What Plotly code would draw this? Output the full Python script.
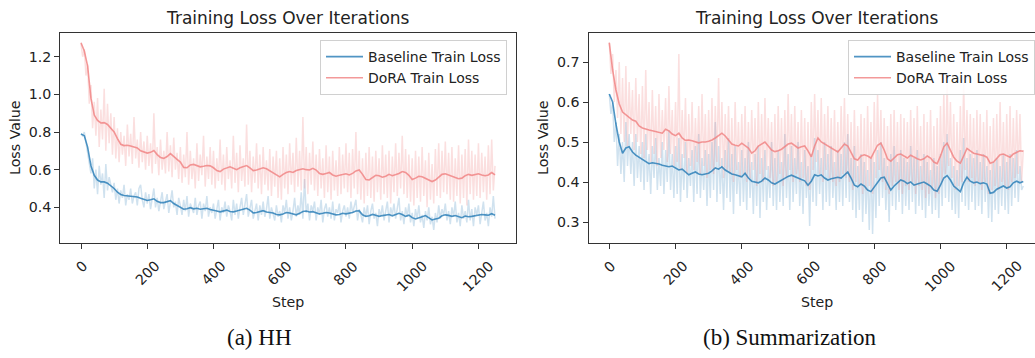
import plotly.graph_objects as go

# ---------------- data ----------------
steps_smooth = list(range(0, 1251, 10))
steps_raw = list(range(0, 1251, 5))
x_ticks = [0, 200, 400, 600, 800, 1000, 1200]
x_tick_labels = ["0", "200", "400", "600", "800", "1000", "1200"]

# (a) HH - smoothed
hh_base_smooth = [
    .79, .78, .72, .62, .57, .545, .535, .535, .528, .515,
    .50, .48, .468, .463, .462, .46, .458, .455, .448, .443,
    .436, .44, .445, .432, .425, .425, .43, .435, .42, .41,
    .40, .39, .392, .398, .392, .395, .39, .392, .395, .388,
    .386, .38, .376, .38, .385, .378, .376, .38, .385, .39,
    .395, .385, .37, .372, .378, .382, .375, .372, .37, .362,
    .36, .365, .372, .37, .365, .36, .368, .378, .38, .375,
    .377, .37, .365, .368, .372, .37, .365, .36, .362, .368,
    .365, .368, .372, .38, .381, .36, .352, .355, .362, .358,
    .352, .356, .36, .362, .355, .36, .368, .362, .352, .358,
    .345, .338, .342, .35, .356, .345, .333, .338, .342, .355,
    .36, .357, .352, .356, .35, .345, .354, .35, .352, .355,
    .36, .362, .36, .358, .366, .358]
hh_dora_smooth = [
    1.274, 1.23, 1.15, .98, .89, .862, .848, .85, .84, .82,
    .80, .765, .735, .728, .73, .726, .722, .715, .70, .692,
    .688, .692, .702, .68, .665, .66, .67, .685, .672, .655,
    .64, .612, .61, .625, .628, .62, .615, .618, .622, .62,
    .61, .595, .59, .603, .61, .615, .608, .60, .61, .618,
    .622, .61, .595, .598, .605, .61, .605, .595, .585, .572,
    .562, .575, .585, .59, .585, .595, .598, .605, .60, .598,
    .607, .598, .58, .575, .58, .585, .572, .565, .57, .575,
    .578, .572, .58, .593, .598, .575, .548, .545, .56, .57,
    .568, .56, .565, .575, .568, .572, .58, .59, .585, .57,
    .548, .555, .565, .562, .555, .545, .537, .545, .56, .575,
    .578, .57, .562, .558, .552, .555, .568, .575, .57, .572,
    .578, .572, .568, .572, .585, .572]

# (a) HH - raw
hh_base_raw = [
    .79, .78, .80, .74, .70, .62, .58, .66, .50, .60, .47, .62, .52, .58, .45, .63, .49, .56, .52, .48,
    .53, .44, .50, .42, .49, .45, .52, .41, .47, .44, .50, .42, .46, .48, .41, .50, .52, .44, .40, .48,
    .42, .47, .39, .46, .50, .40, .45, .38, .44, .48, .39, .43, .47, .37, .44, .49, .40, .43, .36, .45,
    .41, .36, .44, .38, .46, .35, .42, .39, .37, .45, .36, .41, .43, .34, .42, .38, .46, .35, .40, .37,
    .42, .34, .39, .44, .33, .40, .37, .43, .35, .41, .38, .33, .44, .36, .42, .34, .40, .45, .36, .41,
    .47, .35, .40, .44, .34, .38, .42, .33, .41, .36, .43, .35, .39, .46, .34, .40, .37, .33, .41, .35,
    .38, .32, .41, .37, .44, .34, .40, .33, .38, .45, .35, .41, .36, .48, .34, .55, .37, .42, .33, .41,
    .38, .43, .33, .40, .36, .44, .32, .39, .42, .35, .40, .34, .43, .33, .39, .37, .42, .32, .38, .41,
    .35, .40, .34, .43, .37, .41, .44, .33, .39, .36, .32, .40, .35, .41, .31, .38, .42, .34, .37, .30,
    .39, .35, .41, .33, .38, .43, .32, .40, .36, .42, .34, .39, .45, .33, .38, .31, .40, .35, .42, .32,
    .37, .30, .39, .34, .41, .32, .36, .29, .38, .33, .40, .31, .35, .28, .37, .32, .41, .34, .39, .36,
    .42, .33, .38, .31, .40, .35, .43, .32, .37, .30, .41, .34, .38, .32, .44, .33, .39, .30, .40, .36,
    .41, .31, .38, .43, .33, .37, .30, .40, .35, .46, .34]
hh_dora_raw = [
    1.27, 1.20, 1.24, 1.10, 1.16, .95, 1.05, .82, .96, .78, .98, .72, .92, .76, 1.03, .70, .95, .74, .90, .68,
    .88, .66, .82, .64, .80, .68, .78, .62, .84, .67, .79, .63, .88, .66, .76, .61, .80, .64, .75, .60,
    .78, .62, .74, .58, .90, .63, .72, .57, .76, .60, .70, .58, .80, .59, .73, .56, .77, .60, .69, .55,
    .72, .53, .68, .56, .80, .52, .70, .55, .66, .50, .74, .54, .68, .57, .78, .51, .67, .55, .72, .52,
    .70, .50, .66, .54, .76, .52, .68, .49, .72, .55, .65, .50, .78, .53, .69, .48, .73, .54, .66, .51,
    .84, .52, .70, .48, .67, .53, .74, .50, .68, .47, .72, .52, .65, .49, .71, .46, .67, .51, .70, .45,
    .66, .44, .72, .50, .68, .47, .74, .52, .69, .48, .77, .51, .70, .49, .88, .50, .72, .47, .69, .52,
    .75, .49, .68, .46, .71, .50, .66, .45, .73, .48, .67, .44, .70, .49, .65, .46, .72, .47, .68, .50,
    .74, .48, .69, .45, .71, .50, .80, .47, .70, .44, .66, .42, .69, .46, .72, .45, .67, .43, .70, .48,
    .66, .44, .73, .47, .68, .45, .70, .42, .67, .48, .74, .46, .69, .50, .78, .47, .71, .45, .68, .43,
    .66, .41, .70, .45, .67, .43, .72, .46, .65, .40, .69, .44, .63, .42, .71, .46, .74, .45, .70, .48,
    .75, .47, .69, .44, .72, .43, .66, .46, .73, .42, .68, .45, .71, .41, .76, .47, .70, .44, .68, .46,
    .74, .45, .69, .48, .67, .44, .73, .47, .76, .49, .62]

# (b) Summarization - smoothed
sum_base_smooth = [
    .62, .60, .545, .50, .472, .485, .488, .475, .467, .462,
    .455, .45, .446, .448, .447, .445, .442, .44, .438, .44,
    .435, .43, .432, .425, .418, .422, .425, .42, .418, .42,
    .422, .428, .435, .432, .438, .43, .425, .42, .418, .415,
    .413, .422, .41, .402, .40, .398, .402, .41, .405, .398,
    .395, .40, .403, .41, .414, .417, .413, .408, .406, .403,
    .392, .402, .418, .415, .418, .41, .405, .408, .41, .412,
    .41, .418, .425, .41, .392, .388, .395, .39, .38, .376,
    .388, .398, .41, .412, .395, .38, .39, .398, .405, .402,
    .396, .40, .392, .395, .398, .40, .395, .39, .38, .377,
    .392, .41, .416, .405, .39, .382, .376, .398, .412, .402,
    .398, .40, .396, .398, .395, .372, .374, .382, .385, .39,
    .385, .388, .398, .402, .398, .401]
sum_dora_smooth = [
    .748, .68, .63, .595, .575, .568, .56, .555, .552, .54,
    .535, .532, .53, .528, .526, .524, .522, .532, .528, .52,
    .516, .522, .51, .504, .505, .503, .50, .498, .50, .50,
    .502, .505, .51, .516, .522, .515, .505, .495, .492, .49,
    .497, .49, .485, .472, .478, .49, .495, .50, .49, .48,
    .476, .478, .482, .488, .495, .497, .49, .485, .488, .49,
    .478, .463, .49, .51, .50, .495, .492, .485, .48, .475,
    .485, .495, .49, .475, .458, .455, .465, .468, .465, .46,
    .478, .492, .497, .48, .458, .452, .46, .468, .47, .465,
    .46, .467, .462, .458, .455, .458, .465, .46, .45, .446,
    .465, .488, .497, .48, .462, .452, .447, .465, .484, .478,
    .472, .47, .468, .466, .462, .447, .45, .458, .468, .47,
    .465, .462, .47, .475, .478, .477]

# (b) Summarization - raw
sum_base_raw = [
    .62, .57, .60, .50, .55, .44, .52, .42, .50, .40, .55, .44, .52, .42, .50, .39, .52, .41, .49, .40,
    .50, .38, .52, .40, .47, .37, .49, .41, .51, .38, .46, .39, .50, .37, .48, .40, .53, .38, .47, .36,
    .49, .37, .51, .35, .47, .38, .50, .36, .46, .39, .48, .35, .49, .37, .52, .36, .46, .38, .48, .34,
    .47, .36, .50, .38, .55, .35, .49, .37, .46, .33, .48, .36, .51, .35, .47, .32, .49, .37, .45, .34,
    .48, .35, .46, .33, .50, .36, .45, .32, .47, .34, .49, .31, .46, .35, .48, .33, .44, .36, .50, .34,
    .46, .33, .48, .35, .45, .34, .52, .36, .47, .33, .49, .35, .46, .37, .50, .34, .45, .32, .48, .36,
    .44, .29, .47, .35, .51, .34, .48, .37, .46, .33, .50, .35, .47, .34, .49, .36, .45, .33, .48, .35,
    .47, .34, .50, .36, .52, .35, .46, .33, .49, .31, .44, .33, .47, .30, .45, .32, .43, .28, .46, .27,
    .45, .31, .48, .34, .50, .36, .46, .33, .44, .30, .47, .34, .49, .33, .45, .35, .48, .32, .46, .34,
    .45, .33, .49, .35, .46, .32, .48, .34, .44, .33, .47, .31, .45, .34, .43, .32, .46, .33, .44, .31,
    .47, .34, .50, .36, .52, .35, .46, .33, .44, .32, .43, .31, .48, .35, .51, .34, .46, .33, .47, .35,
    .46, .33, .48, .34, .45, .32, .47, .35, .44, .31, .43, .30, .45, .33, .46, .32, .44, .34, .47, .33,
    .45, .32, .47, .34, .46, .36, .48, .35, .44, .38, .39]
sum_dora_raw = [
    .75, .67, .72, .60, .68, .56, .70, .52, .66, .50, .69, .49, .65, .52, .63, .48, .66, .50, .62, .47,
    .64, .46, .68, .48, .60, .45, .63, .47, .59, .44, .62, .46, .58, .48, .61, .45, .64, .47, .58, .44,
    .60, .45, .72, .43, .58, .46, .61, .42, .57, .44, .60, .43, .56, .45, .59, .42, .62, .44, .57, .41,
    .58, .43, .61, .42, .59, .45, .66, .44, .60, .41, .57, .43, .59, .42, .56, .40, .60, .43, .55, .41,
    .57, .42, .59, .40, .55, .41, .58, .43, .56, .39, .60, .42, .57, .40, .61, .43, .56, .41, .55, .39,
    .57, .40, .59, .42, .56, .39, .58, .41, .62, .43, .57, .40, .59, .42, .55, .40, .58, .41, .56, .39,
    .55, .38, .60, .43, .62, .45, .58, .42, .61, .40, .57, .43, .59, .41, .56, .40, .58, .39, .55, .40,
    .59, .42, .61, .41, .57, .40, .55, .38, .58, .40, .54, .39, .57, .37, .56, .38, .59, .39, .55, .37,
    .60, .41, .62, .43, .58, .40, .56, .38, .54, .37, .57, .39, .58, .40, .55, .38, .57, .37, .56, .39,
    .55, .38, .58, .40, .56, .37, .59, .39, .54, .38, .57, .36, .55, .37, .58, .38, .54, .36, .56, .37,
    .59, .40, .62, .42, .65, .44, .60, .41, .57, .38, .55, .39, .59, .40, .65, .43, .58, .40, .57, .41,
    .56, .39, .58, .40, .57, .38, .55, .40, .58, .37, .54, .38, .56, .39, .57, .38, .60, .40, .55, .39,
    .57, .38, .59, .40, .56, .41, .58, .42, .57, .40, .48]

# ---------------- styling ----------------
W, H = 1035, 358
FONT = "DejaVu Sans"
TXT = "#222222"
AX = "#333333"
BLUE = "rgba(31,119,180,0.78)"
BLUE_RAW = "rgba(31,119,180,0.21)"
PINK = "rgba(240,128,128,0.8)"
PINK_RAW = "rgba(240,128,128,0.25)"

def px_x(p):
    return p / W

def px_y(p):
    return 1 - p / H

fig = go.Figure()

panels = [
    ("x", "y", "legend", hh_base_raw, hh_dora_raw, hh_base_smooth, hh_dora_smooth),
    ("x2", "y2", "legend2", sum_base_raw, sum_dora_raw, sum_base_smooth, sum_dora_smooth),
]
for xa, ya, lg, br, dr, bs, ds in panels:
    fig.add_trace(go.Scatter(x=steps_raw, y=br, mode="lines", xaxis=xa, yaxis=ya,
                             line=dict(color=BLUE_RAW, width=1.5), showlegend=False,
                             hoverinfo="skip"))
    fig.add_trace(go.Scatter(x=steps_raw, y=dr, mode="lines", xaxis=xa, yaxis=ya,
                             line=dict(color=PINK_RAW, width=1.5), showlegend=False,
                             hoverinfo="skip"))
    fig.add_trace(go.Scatter(x=steps_smooth, y=bs, mode="lines", xaxis=xa, yaxis=ya,
                             name="Baseline Train Loss", legend=lg,
                             line=dict(color=BLUE, width=1.6)))
    fig.add_trace(go.Scatter(x=steps_smooth, y=ds, mode="lines", xaxis=xa, yaxis=ya,
                             name="DoRA Train Loss", legend=lg,
                             line=dict(color=PINK, width=1.6)))

ydom = [px_y(243), px_y(33)]
common_x = dict(showgrid=False, zeroline=False, showline=True, linecolor=AX, linewidth=1.2,
                ticks="outside", ticklen=5, tickwidth=1.2, tickcolor=AX,
                tickvals=x_ticks, showticklabels=False)
common_y = dict(showgrid=False, zeroline=False, showline=True, linecolor=AX, linewidth=1.2,
                ticks="outside", ticklen=5, tickwidth=1.2, tickcolor=AX,
                tickformat=".1f", tickfont=dict(family=FONT, size=14.2, color=TXT))

legend_style = dict(xanchor="left", yanchor="top", itemwidth=37,
                    bgcolor="rgba(255,255,255,0.85)", bordercolor="#d0d0d0", borderwidth=1,
                    font=dict(family=FONT, size=14, color=TXT), tracegroupgap=0)

fig.update_layout(
    width=W, height=H, margin=dict(l=0, r=0, t=0, b=0),
    paper_bgcolor="white", plot_bgcolor="white",
    font=dict(family=FONT, size=14.2, color=TXT),
    xaxis=dict(domain=[px_x(60.3), px_x(515.7)], range=[-62.5, 1312.5], anchor="y",
               mirror=True, **common_x),
    yaxis=dict(domain=ydom, range=[0.2104, 1.326], anchor="x", mirror=True,
               tickvals=[0.4, 0.6, 0.8, 1.0, 1.2], **common_y),
    xaxis2=dict(domain=[px_x(588.6), 1.0], range=[-62.5, 1285.4], anchor="y2",
                mirror=True, **common_x),
    yaxis2=dict(domain=ydom, range=[0.2475, 0.7725], anchor="x2", mirror=False,
                tickvals=[0.3, 0.4, 0.5, 0.6, 0.7], **common_y),
    legend=dict(x=px_x(320), y=px_y(40), **legend_style),
    legend2=dict(x=px_x(848), y=px_y(40), **legend_style),
    showlegend=True,
)

ann = []
for xr in ["x", "x2"]:
    for v, lab in zip(x_ticks, x_tick_labels):
        ann.append(dict(x=v, y=px_y(255), xref=xr, yref="paper", text=lab, showarrow=False,
                        textangle=-45, xanchor="center", yanchor="top",
                        font=dict(family=FONT, size=14.2, color=TXT)))

for cx, lx, capx, cap in [(288, 15, 259.5, "(a) HH"), (816.5, 543, 790, "(b) Summarization")]:
    ann.append(dict(x=px_x(cx), y=px_y(18.3), xref="paper", yref="paper",
                    text="Training Loss Over Iterations", showarrow=False,
                    xanchor="center", yanchor="middle",
                    font=dict(family=FONT, size=17, color=TXT)))
    ann.append(dict(x=px_x(cx), y=px_y(302), xref="paper", yref="paper", text="Step",
                    showarrow=False, xanchor="center", yanchor="middle",
                    font=dict(family=FONT, size=14.2, color=TXT)))
    ann.append(dict(x=px_x(lx), y=px_y(138), xref="paper", yref="paper", text="Loss Value",
                    showarrow=False, textangle=-90, xanchor="center", yanchor="middle",
                    font=dict(family=FONT, size=14.2, color=TXT)))
    ann.append(dict(x=px_x(capx), y=px_y(337), xref="paper", yref="paper", text=cap,
                    showarrow=False, xanchor="center", yanchor="middle",
                    font=dict(family="Liberation Serif", size=23, color="#111111")))

fig.update_layout(annotations=ann)
fig.write_html("out.html", config={"displayModeBar": False},
               post_script="document.body.style.margin='0px';")
